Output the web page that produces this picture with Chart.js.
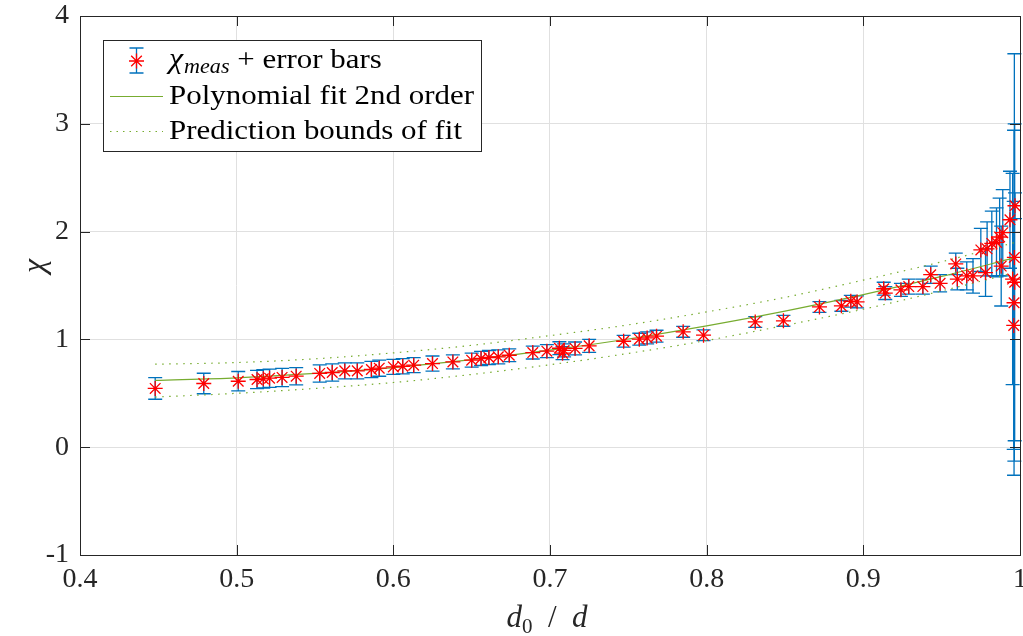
<!DOCTYPE html>
<html>
<head>
<meta charset="utf-8">
<script src="https://cdn.jsdelivr.net/npm/chart.js@4.4.1/dist/chart.umd.min.js"></script>
<style>
  html, body { margin: 0; padding: 0; background: #fff; }
  #wrap { width: 1023px; height: 636px; }
</style>
</head>
<body>
<div id="wrap"><canvas id="myChart"></canvas></div>
<script>
/* globals Chart:false */

// measured points: d0/d, chi and its half error
const ratio = [
  0.448, 0.479, 0.501, 0.513, 0.517, 0.521, 0.529, 0.538, 0.553, 0.561,
  0.569, 0.577, 0.586, 0.591, 0.600, 0.606, 0.613, 0.625, 0.638, 0.650,
  0.656, 0.661, 0.667, 0.674, 0.689, 0.698, 0.706, 0.708, 0.709, 0.716,
  0.725, 0.747, 0.757, 0.762, 0.768, 0.785, 0.798, 0.831, 0.849, 0.872,
  0.886, 0.892, 0.896, 0.913, 0.914, 0.924, 0.929, 0.938, 0.943, 0.949,
  0.959, 0.960, 0.966, 0.970, 0.975, 0.978, 0.979, 0.982, 0.985, 0.987,
  0.988, 0.989, 0.9936, 0.9953, 0.9960, 0.9962, 0.9964, 0.9966, 0.9968
]
const chiMeas = [
  0.545, 0.591, 0.612, 0.628, 0.634, 0.640, 0.647, 0.659, 0.684, 0.693,
  0.708, 0.708, 0.721, 0.733, 0.745, 0.751, 0.761, 0.776, 0.791, 0.807,
  0.823, 0.832, 0.838, 0.853, 0.878, 0.891, 0.918, 0.872, 0.898, 0.916,
  0.940, 0.983, 1.002, 1.014, 1.030, 1.070, 1.039, 1.162, 1.172, 1.301,
  1.311, 1.354, 1.348, 1.470, 1.430, 1.460, 1.490, 1.490, 1.600, 1.520,
  1.700, 1.560, 1.590, 1.590, 1.830, 1.620, 1.840, 1.890, 1.900, 1.950,
  1.680, 1.990, 2.110, 1.560, 1.130, 1.340, 1.760, 1.530, 2.240
]
const chiErr = [
  0.100, 0.095, 0.090, 0.085, 0.085, 0.085, 0.085, 0.080, 0.080, 0.080,
  0.075, 0.075, 0.075, 0.075, 0.070, 0.070, 0.070, 0.070, 0.065, 0.065,
  0.065, 0.065, 0.065, 0.060, 0.060, 0.060, 0.060, 0.060, 0.060, 0.060,
  0.060, 0.055, 0.055, 0.055, 0.055, 0.050, 0.050, 0.050, 0.050, 0.050,
  0.050, 0.055, 0.055, 0.060, 0.060, 0.060, 0.070, 0.070, 0.080, 0.080,
  0.100, 0.100, 0.130, 0.160, 0.200, 0.220, 0.250, 0.300, 0.320, 0.360,
  0.370, 0.400, 0.450, 0.980, 1.150, 1.600, 1.890, 1.470, 0.120
]

// 2nd order fit and its prediction bounds
const fitX = [0.448, 0.5, 0.55, 0.6, 0.65, 0.7, 0.75, 0.8, 0.85, 0.9, 0.95, 0.997]
const fitY = [0.619, 0.643, 0.684, 0.739, 0.812, 0.900, 1.004, 1.125, 1.262, 1.415, 1.584, 1.758]
const upperY = [0.770, 0.785, 0.820, 0.875, 0.945, 1.035, 1.135, 1.255, 1.390, 1.550, 1.720, 1.900]
const lowerY = [0.465, 0.500, 0.545, 0.600, 0.675, 0.765, 0.870, 0.990, 1.130, 1.280, 1.450, 1.620]

const xTicks = [0.4, 0.5, 0.6, 0.7, 0.8, 0.9, 1]
const yTicks = [-1, 0, 1, 2, 3, 4]

const SERIF = "'Liberation Serif', 'Times New Roman', serif"
const AXIS = '#262626'
const BLUE = '#0072BD'
const GREEN = '#77AC30'
const RED = '#FF0000'

const pairs = (xs, ys) => xs.map((v, i) => ({ x: v, y: ys[i] }))

// vertical error bars with caps, drawn under the markers
const errorBars = {
  id: 'errorBars',
  beforeDatasetsDraw(chart) {
    const { ctx, scales: { x, y } } = chart
    ctx.save()
    ctx.strokeStyle = BLUE
    ctx.lineWidth = 1.3
    ratio.forEach((r, i) => {
      const px = x.getPixelForValue(r)
      const top = y.getPixelForValue(chiMeas[i] + chiErr[i])
      const bot = y.getPixelForValue(chiMeas[i] - chiErr[i])
      ctx.beginPath()
      ctx.moveTo(px, top); ctx.lineTo(px, bot)
      ctx.moveTo(px - 7, top); ctx.lineTo(px + 7, top)
      ctx.moveTo(px - 7, bot); ctx.lineTo(px + 7, bot)
      ctx.stroke()
    })
    ctx.restore()
  }
}

// text stretched a little so the serif reads as wide as the math font
function wideText(ctx, text, x, y, sx) {
  ctx.save()
  ctx.translate(x, y)
  ctx.scale(sx, 1)
  ctx.fillText(text, 0, 0)
  ctx.restore()
  return ctx.measureText(text).width * sx
}

// axes box with inward ticks, axis labels and the legend
const frame = {
  id: 'frame',
  afterDraw(chart) {
    const { ctx, chartArea: a, scales: { x, y } } = chart
    ctx.save()
    ctx.strokeStyle = AXIS
    ctx.lineWidth = 1
    ctx.strokeRect(Math.round(a.left) + 0.5, Math.round(a.top) + 0.5,
      Math.round(a.right - a.left), Math.round(a.bottom - a.top))
    ctx.beginPath()
    xTicks.forEach(t => {
      const px = Math.round(x.getPixelForValue(t)) + 0.5
      ctx.moveTo(px, a.bottom); ctx.lineTo(px, a.bottom - 10)
      ctx.moveTo(px, a.top); ctx.lineTo(px, a.top + 10)
    })
    yTicks.forEach(t => {
      const py = Math.round(y.getPixelForValue(t)) + 0.5
      ctx.moveTo(a.left, py); ctx.lineTo(a.left + 10, py)
      ctx.moveTo(a.right, py); ctx.lineTo(a.right - 10, py)
    })
    ctx.stroke()

    // y label
    ctx.fillStyle = AXIS
    ctx.save()
    ctx.translate(44, 266)
    ctx.rotate(-Math.PI / 2)
    ctx.font = 'italic 32px ' + SERIF
    ctx.textAlign = 'center'
    ctx.textBaseline = 'alphabetic'
    ctx.fillText('χ', 0, 0)
    ctx.restore()

    // x label: d0 / d
    const big = 'italic 31px ' + SERIF
    const sub = '21px ' + SERIF
    const reg = '31px ' + SERIF
    const parts = [[big, 'd', 0], [sub, '0', 6], [reg, '  /  ', 0], [big, 'd', 0]]
    let w = 0
    parts.forEach(p => { ctx.font = p[0]; w += ctx.measureText(p[1]).width })
    let cx = (a.left + a.right) / 2 - w / 2 - 3
    ctx.textAlign = 'left'
    parts.forEach(p => {
      ctx.font = p[0]
      ctx.fillText(p[1], cx, 627 + p[2])
      cx += ctx.measureText(p[1]).width
    })

    // legend
    ctx.fillStyle = '#fff'
    ctx.fillRect(103.5, 40.5, 378, 111)
    ctx.strokeStyle = AXIS
    ctx.strokeRect(103.5, 40.5, 378, 111)

    ctx.strokeStyle = BLUE
    ctx.lineWidth = 1.3
    ctx.beginPath()
    ctx.moveTo(136.5, 48); ctx.lineTo(136.5, 73)
    ctx.moveTo(129.5, 48); ctx.lineTo(143.5, 48)
    ctx.moveTo(129.5, 73); ctx.lineTo(143.5, 73)
    ctx.stroke()
    ctx.strokeStyle = RED
    Chart.helpers.drawPoint(ctx, { pointStyle: 'star', radius: 7.5, borderWidth: 1.3, rotation: 0 }, 136.5, 61)

    ctx.strokeStyle = GREEN
    ctx.lineWidth = 1
    ctx.beginPath()
    ctx.moveTo(110, 96.5); ctx.lineTo(163, 96.5)
    ctx.stroke()
    ctx.setLineDash([1.5, 5])
    ctx.beginPath()
    ctx.moveTo(110, 131.5); ctx.lineTo(163, 131.5)
    ctx.stroke()
    ctx.setLineDash([])

    ctx.fillStyle = '#000'
    ctx.font = '28px ' + SERIF
    const sx = 305 / ctx.measureText('Polynomial fit 2nd order').width
    ctx.font = 'italic 29px ' + SERIF
    let lx = 169 + wideText(ctx, 'χ', 169, 68, sx)
    ctx.font = 'italic 20px ' + SERIF
    lx += wideText(ctx, 'meas', lx + 1, 73, sx) + 1
    ctx.font = '28px ' + SERIF
    wideText(ctx, ' + error bars', lx, 68, sx)
    wideText(ctx, 'Polynomial fit 2nd order', 169, 104, sx)
    wideText(ctx, 'Prediction bounds of fit', 169, 139, sx)
    ctx.restore()
  }
}

const ctx = document.getElementById('myChart')
// eslint-disable-next-line no-unused-vars
const myChart = new Chart(ctx, {
  type: 'scatter',
  data: {
    datasets: [{
      label: 'chi meas',
      data: pairs(ratio, chiMeas),
      pointStyle: 'star',
      pointRadius: 7.5,
      pointBorderWidth: 1.3,
      borderColor: RED,
      backgroundColor: RED,
      showLine: false
    }, {
      label: 'fit',
      data: pairs(fitX, fitY),
      showLine: true,
      borderColor: GREEN,
      borderWidth: 1.2,
      pointRadius: 0,
      cubicInterpolationMode: 'monotone'
    }, {
      label: 'upper bound',
      data: pairs(fitX, upperY),
      showLine: true,
      borderColor: GREEN,
      borderWidth: 1.2,
      borderDash: [1.5, 5.5],
      pointRadius: 0,
      cubicInterpolationMode: 'monotone'
    }, {
      label: 'lower bound',
      data: pairs(fitX, lowerY),
      showLine: true,
      borderColor: GREEN,
      borderWidth: 1.2,
      borderDash: [1.5, 5.5],
      pointRadius: 0,
      cubicInterpolationMode: 'monotone'
    }]
  },
  options: {
    responsive: true,
    maintainAspectRatio: false,
    animation: false,
    layout: { autoPadding: false, padding: { top: 16, right: 3, left: 0, bottom: 0 } },
    plugins: {
      legend: { display: false },
      tooltip: { enabled: false }
    },
    scales: {
      x: {
        type: 'linear',
        min: 0.4,
        max: 1,
        afterFit: s => { s.height = 81; s.paddingLeft = 0; s.paddingRight = 0 },
        afterBuildTicks: s => { s.ticks = xTicks.map(v => ({ value: v })) },
        grid: { color: '#e0e0e0', drawTicks: false },
        border: { display: false },
        ticks: {
          padding: 8,
          color: AXIS,
          font: { family: SERIF, size: 28 },
          callback: v => (v === 1 ? '1' : v.toFixed(1))
        }
      },
      y: {
        min: -1,
        max: 4,
        afterFit: s => { s.width = 80; s.paddingTop = 0; s.paddingBottom = 0 },
        afterBuildTicks: s => { s.ticks = yTicks.map(v => ({ value: v })) },
        grid: { color: '#e0e0e0', drawTicks: false },
        border: { display: false },
        ticks: {
          padding: 11,
          color: AXIS,
          font: { family: SERIF, size: 28 },
          callback: v => String(v)
        }
      }
    }
  },
  plugins: [errorBars, frame]
})
</script>
</body>
</html>
